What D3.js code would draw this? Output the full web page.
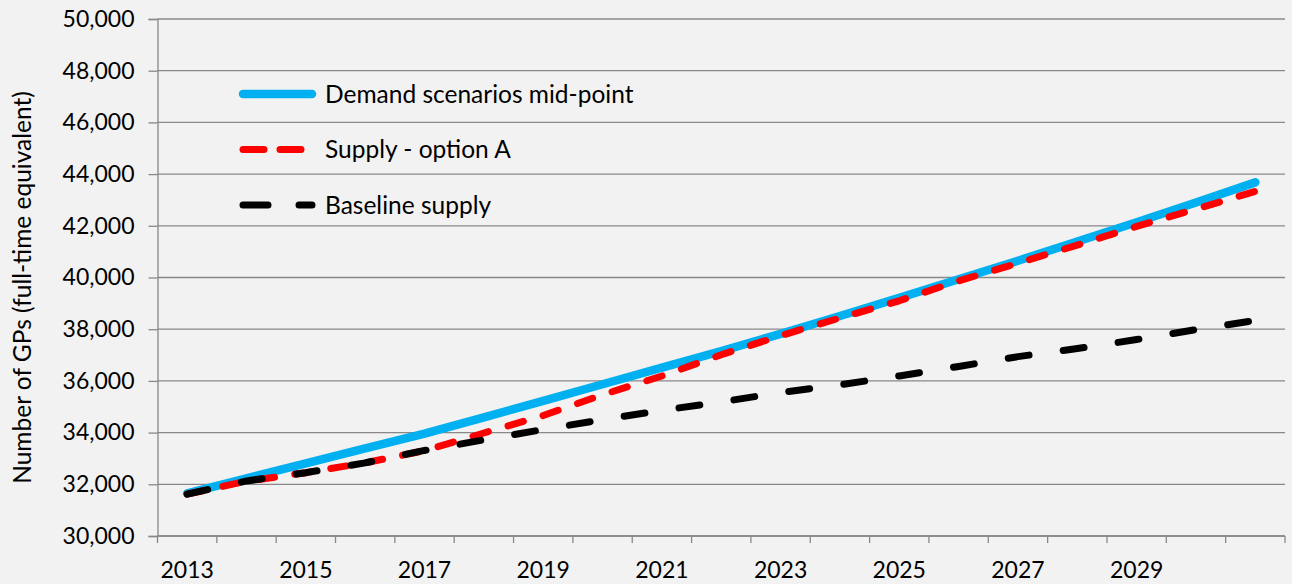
<!DOCTYPE html>
<html>
<head>
<meta charset="utf-8">
<script src="https://cdn.jsdelivr.net/npm/d3@7"></script>
<style>
  html, body { margin: 0; padding: 0; background: #f2f2f2; }
  svg { display: block; }
  text { font-family: Lato, "Open Sans", sans-serif; fill: #000; }
</style>
</head>
<body>
<svg id="chart" width="1292" height="584"></svg>
<script>
// Years along the category axis
const years = [2013, 2014, 2015, 2016, 2017, 2018, 2019, 2020, 2021, 2022,
               2023, 2024, 2025, 2026, 2027, 2028, 2029, 2030, 2031];

// GP full-time equivalents per year
const demandMidpoint = [31650, 32230, 32810, 33390, 33960, 34590, 35230, 35870, 36510, 37150,
                        37820, 38510, 39210, 39930, 40650, 41390, 42140, 42900, 43680];
const supplyOptionA  = [31620, 32120, 32450, 32830, 33300, 33985, 34660, 35465, 36190, 37010,
                        37750, 38435, 39100, 39870, 40555, 41255, 41975, 42650, 43330];
const baselineSupply = [31620, 32130, 32450, 32830, 33310, 33720, 34120, 34500, 34860, 35190,
                        35550, 35850, 36190, 36560, 36940, 37250, 37600, 37985, 38340];

// Axis labels
const xTickLabels = [2013, 2015, 2017, 2019, 2021, 2023, 2025, 2027, 2029];
const yTicks = [30000, 32000, 34000, 36000, 38000, 40000, 42000, 44000, 46000, 48000, 50000];
const yTitle = "Number of GPs (full-time equivalent)";

const seriesNames = ["Demand scenarios mid-point", "Supply - option A", "Baseline supply"];

const svg = d3.select("#chart");
const W = 1292, H = 584;
const plot = { left: 157.5, right: 1285, top: 19, bottom: 536 };

svg.append("rect").attr("width", W).attr("height", H).attr("fill", "#f2f2f2");

const x = d3.scaleBand().domain(years).range([plot.left, plot.right]).paddingInner(0).paddingOuter(0);
const y = d3.scaleLinear().domain([30000, 50000]).range([plot.bottom, plot.top]);
const cx = d => x(d) + x.bandwidth() / 2;

const gridColor = "#888888";

// Horizontal gridlines
svg.append("g")
  .selectAll("line")
  .data(yTicks)
  .join("line")
  .attr("x1", plot.left).attr("x2", plot.right)
  .attr("y1", d => y(d)).attr("y2", d => y(d))
  .attr("stroke", gridColor).attr("stroke-width", 1.3);

// Y axis with outward ticks
const yAxis = svg.append("g")
  .attr("transform", `translate(${plot.left},0)`)
  .call(d3.axisLeft(y).tickValues(yTicks).tickSize(9).tickPadding(14)
        .tickFormat(d3.format(",")));
yAxis.select(".domain").attr("stroke", gridColor).attr("stroke-width", 1.3);
yAxis.selectAll(".tick line").attr("stroke", gridColor).attr("stroke-width", 1.3);
yAxis.selectAll(".tick text")
  .attr("font-size", 23).attr("font-family", "Lato, sans-serif").attr("fill", "#000");

// X axis: tick marks on category boundaries, labels centred on categories
const xg = svg.append("g").attr("transform", `translate(0,${plot.bottom})`);
xg.append("line")
  .attr("x1", plot.left).attr("x2", plot.right)
  .attr("stroke", gridColor).attr("stroke-width", 1.3);
const boundaries = years.map(d => x(d)).concat([plot.right]);
xg.selectAll("line.tk")
  .data(boundaries)
  .join("line").attr("class", "tk")
  .attr("x1", d => d).attr("x2", d => d)
  .attr("y1", 0).attr("y2", 7)
  .attr("stroke", gridColor).attr("stroke-width", 1.3);
xg.selectAll("text")
  .data(xTickLabels)
  .join("text")
  .attr("x", d => cx(d))
  .attr("y", 42)
  .attr("text-anchor", "middle")
  .attr("font-size", 23)
  .text(d => d);

// Y axis title
svg.append("text")
  .attr("transform", `translate(31,${(plot.top + plot.bottom) / 2 + 10}) rotate(-90)`)
  .attr("text-anchor", "middle")
  .attr("font-size", 24.5)
  .text(yTitle);

// Series styling
const styles = [
  { values: demandMidpoint, color: "#00b0f0", width: 8.5, dash: null,        legendDash: null },
  { values: supplyOptionA,  color: "#ff0000", width: 7,   dash: "16,20.5",   legendDash: "21,16" },
  { values: baselineSupply, color: "#000000", width: 7,   dash: "21,34.5",   legendDash: "25,31" }
];

const line = d3.line().x(d => cx(d.year)).y(d => y(d.value));

styles.forEach(s => {
  const pts = years.map((yr, i) => ({ year: yr, value: s.values[i] }));
  svg.append("path")
    .datum(pts)
    .attr("d", line)
    .attr("fill", "none")
    .attr("stroke", s.color)
    .attr("stroke-width", s.width)
    .attr("stroke-linecap", "round")
    .attr("stroke-linejoin", "round")
    .attr("stroke-dasharray", s.dash);
});

// Legend
const legend = svg.append("g");
seriesNames.forEach((name, i) => {
  const ly = 94 + i * 55.5;
  const s = styles[i];
  legend.append("line")
    .attr("x1", 243).attr("x2", 312)
    .attr("y1", ly).attr("y2", ly)
    .attr("stroke", s.color)
    .attr("stroke-width", s.width)
    .attr("stroke-linecap", "round")
    .attr("stroke-dasharray", s.legendDash);
  legend.append("text")
    .attr("x", 325).attr("y", ly)
    .attr("dy", "0.35em")
    .attr("font-size", 24.5)
    .text(name);
});
</script>
</body>
</html>
